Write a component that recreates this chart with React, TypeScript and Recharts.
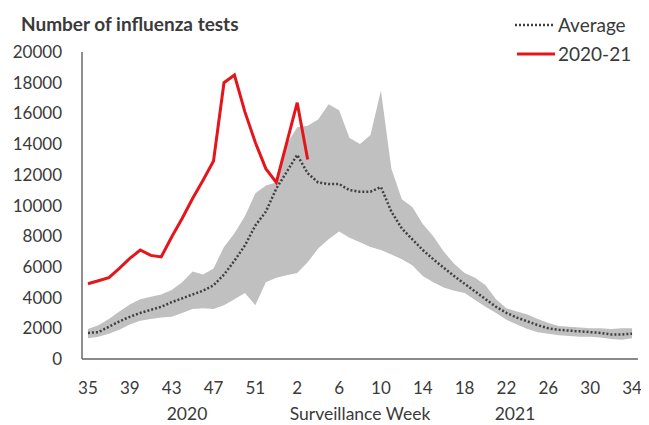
import React from "react";
import { ComposedChart, Area, Line, XAxis, YAxis } from "recharts";

const weeks = [35, 36, 37, 38, 39, 40, 41, 42, 43, 44, 45, 46, 47, 48, 49, 50, 51, 52, 53, 1, 2, 3, 4, 5, 6, 7, 8, 9, 10, 11, 12, 13, 14, 15, 16, 17, 18, 19, 20, 21, 22, 23, 24, 25, 26, 27, 28, 29, 30, 31, 32, 33, 34];

const averageTests = [1700, 1750, 2100, 2450, 2750, 3000, 3200, 3400, 3700, 3950, 4200, 4450, 4800, 5500, 6400, 7400, 8700, 9600, 11100, 12200, 13300, 12100, 11500, 11400, 11400, 11000, 10900, 10900, 11200, 9600, 8500, 7800, 7100, 6500, 5950, 5400, 4900, 4400, 3900, 3400, 3000, 2700, 2450, 2200, 2000, 1900, 1850, 1800, 1750, 1700, 1600, 1600, 1650];

const rangeHigh = [1950, 2200, 2600, 3100, 3550, 3900, 4050, 4200, 4500, 5000, 5700, 5500, 5900, 7300, 8200, 9300, 10800, 11300, 11500, 14000, 15100, 15200, 15600, 16600, 16200, 14400, 14000, 14600, 17500, 12400, 10400, 9900, 8800, 8000, 7000, 6200, 5600, 5300, 4800, 3900, 3300, 3100, 2900, 2600, 2350, 2150, 2100, 2050, 2000, 2000, 1950, 2000, 2000];

const rangeLow = [1350, 1450, 1650, 1900, 2250, 2500, 2600, 2700, 2750, 3000, 3250, 3300, 3250, 3500, 3900, 4300, 3500, 5000, 5300, 5450, 5600, 6300, 7200, 7800, 8300, 7900, 7600, 7300, 7100, 6800, 6500, 6100, 5400, 5000, 4650, 4450, 4300, 3850, 3400, 3000, 2550, 2250, 1950, 1750, 1650, 1550, 1500, 1450, 1450, 1400, 1300, 1250, 1350];

const season2020 = [4900, 5100, 5300, 5900, 6550, 7100, 6750, 6650, 7950, 9150, 10450, 11650, 12900, 18000, 18500, 16100, 14100, 12400, 11500, 14100, 16700, 13000];

const yTicks = [0, 2000, 4000, 6000, 8000, 10000, 12000, 14000, 16000, 18000, 20000];
const xTickWeeks = [35, 39, 43, 47, 51, 2, 6, 10, 14, 18, 22, 26, 30, 34];

const data = weeks.map((w, i) => ({
  i,
  week: w,
  avg: averageTests[i],
  range: [rangeLow[i], rangeHigh[i]],
  cur: i < season2020.length ? season2020[i] : null,
}));

const xTicks = xTickWeeks.map((w) => weeks.indexOf(w));

const FONT = "Lato, 'Open Sans', sans-serif";
const TEXT = "#3a3a3a";
const RED = "#e3161c";
const GREY = "#c0c0c0";
const DOTS = "#3f3f3f";

export default function App() {
  return (
    <div style={{ position: "relative", width: 633, height: 417, fontFamily: FONT }}>
      <ComposedChart
        width={633}
        height={417}
        data={data}
        margin={{ top: 44, right: 3, bottom: 36, left: 0 }}
      >
        <XAxis
          dataKey="i"
          type="number"
          domain={[-0.57, 52.57]}
          allowDataOverflow
          ticks={xTicks}
          tickFormatter={(v: number) => String(weeks[v])}
          tickLine={false}
          tickSize={0}
          tickMargin={23}
          height={30}
          axisLine={{ stroke: "#8a8a8a", strokeWidth: 2 }}
          tick={{ fill: TEXT, fontSize: 17, fontFamily: FONT }}
          interval={0}
        />
        <YAxis
          type="number"
          domain={[0, 20000]}
          ticks={yTicks}
          width={74}
          tickLine={false}
          tickSize={0}
          tickMargin={20}
          axisLine={{ stroke: "#6a6a6a", strokeWidth: 1.5 }}
          tick={{ fill: TEXT, fontSize: 17, fontFamily: FONT }}
          interval={0}
        />
        <Area
          dataKey="range"
          stroke="none"
          fill={GREY}
          fillOpacity={1}
          isAnimationActive={false}
          type="linear"
        />
        <Line
          dataKey="avg"
          stroke={DOTS}
          strokeWidth={2.5}
          strokeDasharray="2 2"
          dot={false}
          type="linear"
          isAnimationActive={false}
        />
        <Line
          dataKey="cur"
          stroke={RED}
          strokeWidth={3}
          dot={false}
          type="linear"
          connectNulls={false}
          isAnimationActive={false}
        />
      </ComposedChart>

      <div style={{ position: "absolute", left: 13, top: 6, fontSize: 19, fontWeight: 700, color: TEXT, lineHeight: "20px", whiteSpace: "nowrap" }}>
        Number of influenza tests
      </div>

      <div style={{ position: "absolute", left: 507, top: 7, fontSize: 19, color: TEXT, lineHeight: "20px", whiteSpace: "nowrap" }}>
        <div style={{ display: "flex", alignItems: "center", height: 20 }}>
          <svg width={42} height={6} style={{ marginRight: 1 }}>
            <line x1={0} y1={3} x2={40} y2={3} stroke={DOTS} strokeWidth={2.5} strokeDasharray="2 2" />
          </svg>
          <span>Average</span>
        </div>
        <div style={{ display: "flex", alignItems: "center", height: 20, marginTop: 9 }}>
          <svg width={42} height={6} style={{ marginRight: 1 }}>
            <line x1={2} y1={3} x2={40} y2={3} stroke={RED} strokeWidth={3} />
          </svg>
          <span>2020-21</span>
        </div>
      </div>

      <div style={{ position: "absolute", left: 139, width: 80, top: 398, textAlign: "center", fontSize: 17.5, color: TEXT, lineHeight: "16px" }}>2020</div>
      <div style={{ position: "absolute", left: 252, width: 200, top: 398, textAlign: "center", fontSize: 17.5, color: TEXT, lineHeight: "16px" }}>Surveillance Week</div>
      <div style={{ position: "absolute", left: 467, width: 80, top: 398, textAlign: "center", fontSize: 17.5, color: TEXT, lineHeight: "16px" }}>2021</div>
    </div>
  );
}
